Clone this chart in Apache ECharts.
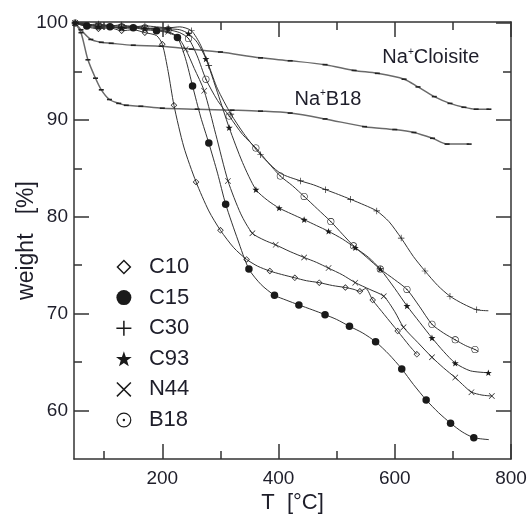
<!DOCTYPE html>
<html><head><meta charset="utf-8">
<script src="https://cdn.jsdelivr.net/npm/echarts@6/dist/echarts.min.js"></script>
<style>html,body{margin:0;padding:0;background:#fff}#c{width:528px;height:518px}</style>
</head><body><div id="c"></div>
<script>
// ---- tick values ----
const xMajorTicks = [200, 400, 600, 800];
const xMinorTicks = [100, 300, 500, 700];
const yMajorTicks = [60, 70, 80, 90, 100];
const yMinorTicks = [65, 75, 85, 95];

// ---- organoclay samples (T in °C, weight in %) ----
const c10T = [50, 70, 90, 110, 130, 150, 170, 190, 200, 210, 220, 237, 258, 280, 300, 323, 345, 364, 385, 405, 428, 448, 470, 493, 515, 530, 540, 550, 562, 582, 605, 625, 638];
const c10W = [100, 99.6, 99.4, 99.5, 99.2, 99.3, 99.0, 98.7, 97.8, 95.0, 91.5, 87.2, 83.6, 80.6, 78.6, 76.8, 75.6, 74.9, 74.4, 74.05, 73.7, 73.4, 73.2, 72.9, 72.7, 72.5, 72.3, 72.6, 71.4, 69.9, 68.2, 66.7, 65.8];

const c15T = [50, 70, 90, 110, 130, 150, 170, 190, 210, 226, 240, 252, 266, 280, 295, 309, 330, 349, 370, 393, 413, 435, 458, 480, 500, 522, 545, 567, 590, 612, 632, 654, 675, 696, 716, 736, 762];
const c15W = [100, 99.7, 99.5, 99.6, 99.4, 99.5, 99.3, 99.2, 99.0, 98.5, 96.3, 93.5, 90.3, 87.6, 84.5, 81.3, 77.6, 74.6, 73.0, 71.9, 71.4, 70.9, 70.4, 69.9, 69.4, 68.7, 68.0, 67.1, 65.8, 64.3, 62.7, 61.1, 59.8, 58.7, 57.8, 57.2, 57.0];

const c30T = [50, 70, 90, 110, 130, 150, 170, 190, 210, 230, 250, 266, 280, 295, 318, 340, 369, 403, 438, 460, 481, 503, 524, 548, 569, 590, 611, 632, 652, 674, 695, 718, 741, 761];
const c30W = [100, 99.8, 99.9, 99.7, 99.8, 99.6, 99.7, 99.6, 99.5, 99.6, 99.2, 97.7, 95.6, 93.2, 90.6, 88.6, 86.4, 84.5, 83.7, 83.3, 82.8, 82.3, 81.8, 81.2, 80.6, 79.5, 77.8, 75.9, 74.4, 72.9, 71.8, 71.0, 70.4, 70.3];

const c93T = [50, 70, 90, 110, 130, 150, 170, 190, 210, 230, 245, 260, 275, 295, 315, 338, 361, 381, 401, 422, 444, 465, 486, 510, 532, 555, 575, 600, 621, 643, 664, 684, 704, 730, 761];
const c93W = [100, 99.8, 99.6, 99.7, 99.5, 99.6, 99.4, 99.5, 99.4, 99.3, 98.9, 98.0, 96.3, 92.8, 89.2, 85.6, 82.8, 81.7, 80.9, 80.3, 79.7, 79.1, 78.5, 77.7, 76.8, 75.8, 74.6, 72.6, 70.8, 69.1, 67.5, 66.1, 64.9, 64.1, 63.9];

const n44T = [50, 70, 90, 110, 130, 150, 170, 190, 210, 226, 240, 255, 272, 292, 313, 335, 355, 375, 395, 420, 444, 465, 486, 510, 532, 557, 581, 600, 615, 640, 664, 684, 704, 720, 732, 750, 767];
const n44W = [100, 99.7, 99.8, 99.6, 99.5, 99.6, 99.4, 99.3, 99.1, 98.6, 97.3, 95.3, 93.0, 88.5, 83.7, 80.3, 78.3, 77.6, 77.1, 76.4, 75.8, 75.3, 74.7, 74.0, 73.2, 72.5, 71.8, 70.2, 68.6, 67.0, 65.5, 64.4, 63.4, 62.5, 61.9, 61.6, 61.5];

const b18T = [50, 70, 90, 110, 130, 150, 170, 190, 210, 230, 245, 260, 275, 295, 315, 338, 361, 382, 403, 424, 444, 467, 490, 510, 529, 552, 575, 600, 621, 643, 664, 684, 704, 722, 738, 744];
const b18W = [100, 99.9, 99.7, 99.8, 99.6, 99.7, 99.5, 99.4, 99.3, 99.0, 98.4, 96.6, 94.2, 92.0, 90.4, 88.5, 87.1, 85.6, 84.2, 83.2, 82.1, 80.8, 79.5, 78.2, 77.0, 75.8, 74.6, 73.5, 72.5, 70.7, 68.9, 68.0, 67.3, 66.7, 66.3, 66.1];

// ---- pristine clays ----
const naCloisiteT = [50, 60, 77, 95, 112, 150, 198, 250, 300, 369, 420, 480, 530, 570, 616, 640, 668, 695, 719, 740, 762];
const naCloisiteW = [100, 99.3, 98.3, 98.0, 97.9, 97.7, 97.6, 97.3, 97.0, 96.4, 96.1, 95.7, 95.1, 94.8, 94.2, 93.4, 92.4, 91.7, 91.3, 91.1, 91.1];

const naB18T = [50, 60, 72, 85, 95, 109, 125, 138, 163, 200, 260, 320, 369, 420, 480, 548, 600, 633, 665, 690, 728];
const naB18W = [100, 99.0, 96.2, 94.3, 93.1, 92.1, 91.7, 91.5, 91.4, 91.2, 91.1, 91.0, 90.9, 90.7, 90.1, 89.3, 89.0, 88.7, 88.1, 87.5, 87.5];

const sampleNames = ['C10', 'C15', 'C30', 'C93', 'N44', 'B18'];
const naLabelNames = ['Na+Cloisite', 'Na+B18'];
const naLabelPos = [[662, 96.4], [485, 92.1]];

// ---- symbols ----
const SYM = {
  C10: 'path://M10,0 L20,10 L10,20 L0,10 Z M10,2.8 L2.8,10 L10,17.2 L17.2,10 Z',
  C15: 'circle',
  C30: 'path://M9,0 H11 V9 H20 V11 H11 V20 H9 V11 H0 V9 H9 Z',
  C93: 'path://M10,0 L12.35,6.76 L19.51,6.91 L13.8,11.24 L15.88,18.09 L10,14 L4.12,18.09 L6.2,11.24 L0.49,6.91 L7.65,6.76 Z',
  N44: 'path://M1.4,0 L10,8.6 L18.6,0 L20,1.4 L11.4,10 L20,18.6 L18.6,20 L10,11.4 L1.4,20 L0,18.6 L8.6,10 L0,1.4 Z',
  B18: 'path://M10,0 A10,10 0 1,1 10,20 A10,10 0 1,1 10,0 Z M10,1.6 A8.4,8.4 0 1,0 10,18.4 A8.4,8.4 0 1,0 10,1.6 Z M10,8.4 A1.6,1.6 0 1,1 10,11.6 A1.6,1.6 0 1,1 10,8.4 Z'
};
const SIZE = {C10: 6.5, C15: 7.5, C30: 6.5, C93: 7, N44: 6, B18: 7};
const PHASE = {C10: 0, C15: 1, C30: 0, C93: 0, N44: 0, B18: 0};

const zip = (t, w) => t.map((v, i) => [v, w[i]]);
const sampleData = {
  C10: zip(c10T, c10W), C15: zip(c15T, c15W), C30: zip(c30T, c30W),
  C93: zip(c93T, c93W), N44: zip(n44T, n44W), B18: zip(b18T, b18W)
};

const FONT = 'Liberation Sans, Arial, Helvetica, sans-serif';
const TXT = '#1e1e2a';
const AX = '#333';

function xAx(pos, ticks, len, showLine, showLabel, extra) {
  return Object.assign({
    type: 'value', position: pos, min: 48, max: 800,
    axisLine: {show: showLine, onZero: false, lineStyle: {color: AX, width: 1.5}},
    axisTick: {show: true, inside: true, length: len, customValues: ticks, lineStyle: {color: AX, width: 1.5}},
    axisLabel: {show: showLabel, customValues: ticks, fontSize: 19, fontFamily: FONT, color: TXT, margin: 10},
    splitLine: {show: false}
  }, extra || {});
}
function yAx(pos, ticks, len, showLine, showLabel, extra) {
  return Object.assign({
    type: 'value', position: pos, min: 55, max: 100.1,
    axisLine: {show: showLine, onZero: false, lineStyle: {color: AX, width: 1.5}},
    axisTick: {show: true, inside: true, length: len, customValues: ticks, lineStyle: {color: AX, width: 1.5}},
    axisLabel: {show: showLabel, customValues: ticks, fontSize: 19, fontFamily: FONT, color: TXT, margin: 6},
    splitLine: {show: false}
  }, extra || {});
}

const series = sampleNames.map(name => ({
  name: name, type: 'line', xAxisIndex: 0, yAxisIndex: 0,
  data: sampleData[name],
  smooth: 0.25,
  symbol: SYM[name], symbolKeepAspect: true,
  symbolSize: (v, p) => (p.dataIndex % 2 === PHASE[name] ? SIZE[name] : 0),
  itemStyle: {color: '#1a1a1a'},
  lineStyle: {color: '#333', width: 1},
  emphasis: {disabled: true},
  animation: false, z: 3
}));

const naData = [zip(naCloisiteT, naCloisiteW), zip(naB18T, naB18W)];
naData.forEach((d, i) => {
  series.push({
    name: naLabelNames[i], type: 'line', xAxisIndex: 0, yAxisIndex: 0,
    data: d, smooth: 0.3,
    symbol: 'rect', symbolSize: [5, 1.6],
    itemStyle: {color: '#222'},
    lineStyle: {color: '#6a6a6a', width: 1.5},
    emphasis: {disabled: true}, animation: false, z: 2,
    markPoint: {
      symbol: 'circle', symbolSize: 1, itemStyle: {color: 'rgba(0,0,0,0)'},
      label: {
        show: true, position: 'inside',
        formatter: '{a|Na}{b|+}{a|' + naLabelNames[i].slice(3) + '}',
        rich: {
          a: {fontSize: 20, fontFamily: FONT, color: TXT, lineHeight: 22},
          b: {fontSize: 10, fontFamily: FONT, color: TXT, lineHeight: 12, verticalAlign: 'top'}
        }
      },
      data: [{coord: naLabelPos[i]}],
      animation: false
    }
  });
});

const chart = echarts.init(document.getElementById('c'), null, {renderer: 'canvas'});
chart.setOption({
  animation: false,
  backgroundColor: '#fff',
  grid: {left: 74, right: 17, top: 22, bottom: 59, containLabel: false, outerBoundsMode: 'none'},
  xAxis: [
    xAx('bottom', xMajorTicks, 15, true, true, {
      name: 'T  [°C]', nameLocation: 'middle', nameGap: 33, nameMoveOverlap: false,
      nameTextStyle: {fontSize: 22, fontFamily: FONT, color: TXT}
    }),
    xAx('bottom', xMinorTicks, 8, false, false),
    xAx('top', xMajorTicks, 15, true, false),
    xAx('top', xMinorTicks, 8, false, false)
  ],
  yAxis: [
    yAx('left', yMajorTicks, 15, true, true, {
      name: 'weight   [%]', nameLocation: 'middle', nameGap: 36, nameRotate: 90, nameMoveOverlap: false,
      nameTextStyle: {fontSize: 23, fontFamily: FONT, color: TXT}
    }),
    yAx('left', yMinorTicks, 8, false, false),
    yAx('right', yMajorTicks, 15, true, false),
    yAx('right', yMinorTicks, 8, false, false)
  ],
  legend: {
    orient: 'vertical', left: 111, top: 251,
    itemWidth: 40, itemHeight: 15, itemGap: 8.6,
    symbolKeepAspect: true,
    selectedMode: false,
    textStyle: {fontSize: 22, fontFamily: FONT, color: TXT, lineHeight: 22},
    data: sampleNames.map(n => ({name: n, icon: SYM[n]}))
  },
  series: series
});
</script>
</body></html>
